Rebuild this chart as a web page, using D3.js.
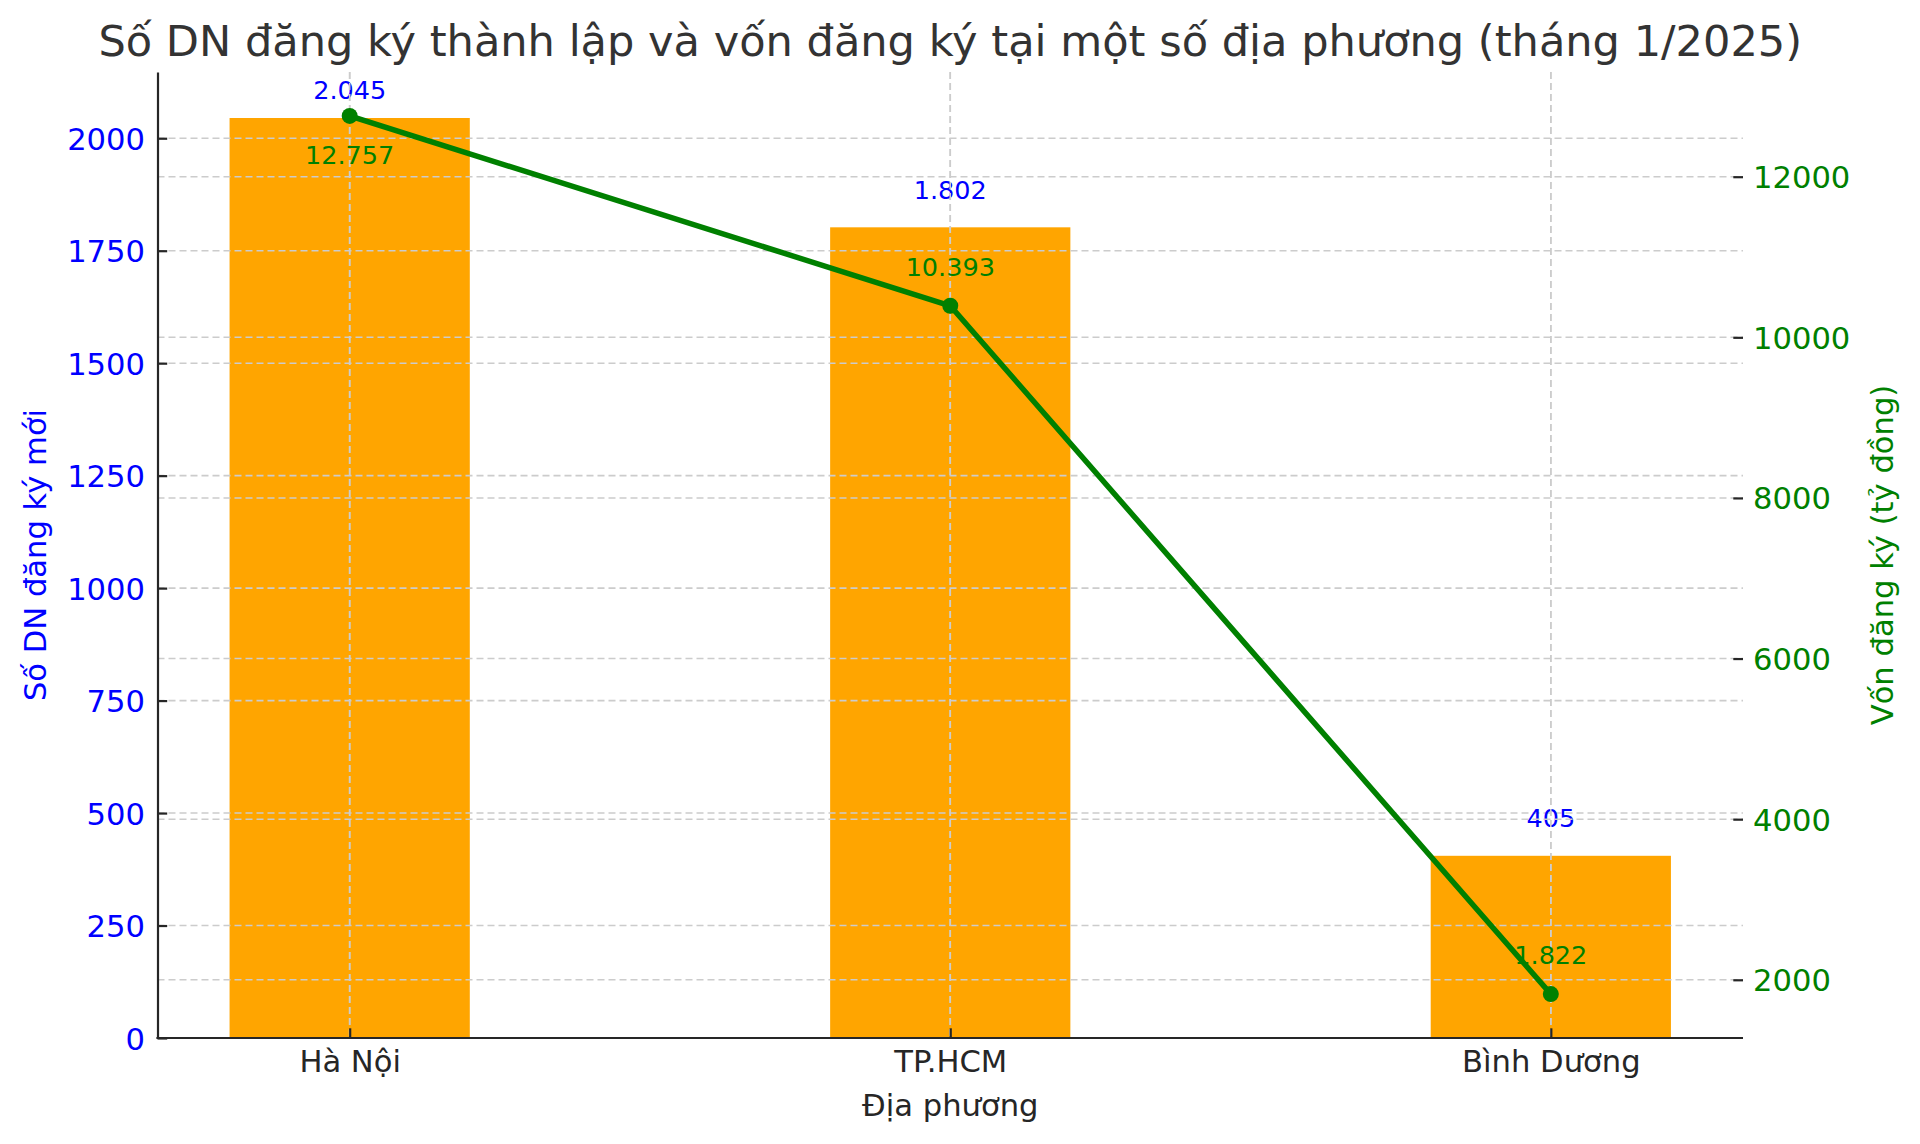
<!DOCTYPE html>
<html>
<head>
<meta charset="utf-8">
<script src="https://cdn.jsdelivr.net/npm/d3@7"></script>
<style>
  html, body { margin: 0; padding: 0; background: #fff; }
  svg { display: block; font-family: "DejaVu Sans", sans-serif; }
</style>
</head>
<body>
<svg id="chart" width="1920" height="1144"></svg>
<script>
// ---- data ----
const categories = ["Hà Nội", "TP.HCM", "Bình Dương"];
const dnCounts = [2045, 1802, 405];          // Số DN đăng ký mới
const capital = [12757, 10393, 1822];        // Vốn đăng ký (tỷ đồng)
const leftTicks = [0, 250, 500, 750, 1000, 1250, 1500, 1750, 2000];
const rightTicks = [2000, 4000, 6000, 8000, 10000, 12000];
const titleText = "Số DN đăng ký thành lập và vốn đăng ký tại một số địa phương (tháng 1/2025)";
const xLabelText = "Địa phương";
const leftLabelText = "Số DN đăng ký mới";
const rightLabelText = "Vốn đăng ký (tỷ đồng)";

// ---- layout ----
const m = { left: 157.5, right: 1743, top: 72, bottom: 1038 };
const BLUE = "#0000ff", GREEN = "#008000", ORANGE = "#ffa500", INK = "#262626";
const tickFs = 30.6, valFs = 25.5, titleFs = 43.1;
const gridColor = "#cccccc", gridW = 1.6, gridDash = "7,4";
const tickLen = 9.7, spineW = 2.2;

const vnFmt = d3.formatLocale({ decimal: ",", thousands: ".", grouping: [3], currency: ["", ""] }).format(",");
const plain = d3.format("d");

const svg = d3.select("#chart");

// scales
const bw = 0.4;
const lo = -bw / 2, hi = categories.length - 1 + bw / 2, padX = 0.05 * (hi - lo);
const x = d3.scaleLinear().domain([lo - padX, hi + padX]).range([m.left, m.right]);
const yL = d3.scaleLinear().domain([0, d3.max(dnCounts) * 1.05]).range([m.bottom, m.top]);
const cMin = d3.min(capital), cMax = d3.max(capital), cPad = 0.05 * (cMax - cMin);
const yR = d3.scaleLinear().domain([cMin - cPad, cMax + cPad]).range([m.bottom, m.top]);

// ---- bars ----
svg.append("g").selectAll("rect").data(dnCounts).join("rect")
  .attr("x", (d, i) => x(i - bw / 2))
  .attr("width", (d, i) => x(i + bw / 2) - x(i - bw / 2))
  .attr("y", d => yL(d))
  .attr("height", d => yL(0) - yL(d))
  .attr("fill", ORANGE);

// ---- left grid ----
const gL = svg.append("g");
gL.selectAll("line.h").data(leftTicks).join("line").attr("class", "h")
  .attr("x1", m.left).attr("x2", m.right)
  .attr("y1", d => yL(d)).attr("y2", d => yL(d))
  .attr("stroke", gridColor).attr("stroke-width", gridW).attr("stroke-dasharray", gridDash);
gL.selectAll("line.v").data(categories).join("line").attr("class", "v")
  .attr("x1", (d, i) => x(i)).attr("x2", (d, i) => x(i))
  .attr("y1", m.top).attr("y2", m.bottom)
  .attr("stroke", gridColor).attr("stroke-width", gridW).attr("stroke-dasharray", gridDash);

// ---- blue value labels ----
svg.append("g").selectAll("text").data(dnCounts).join("text")
  .attr("x", (d, i) => x(i))
  .attr("y", d => Math.max(yL(d + 50) - 0.24 * valFs, m.top + 1.05 * valFs))
  .attr("text-anchor", "middle")
  .attr("font-size", valFs).attr("fill", BLUE)
  .text(d => vnFmt(d));

// ---- right grid ----
const gR = svg.append("g");
gR.selectAll("line.h").data(rightTicks).join("line").attr("class", "h")
  .attr("x1", m.left).attr("x2", m.right)
  .attr("y1", d => yR(d)).attr("y2", d => yR(d))
  .attr("stroke", gridColor).attr("stroke-width", gridW).attr("stroke-dasharray", gridDash);
gR.selectAll("line.v").data(categories).join("line").attr("class", "v")
  .attr("x1", (d, i) => x(i)).attr("x2", (d, i) => x(i))
  .attr("y1", m.top).attr("y2", m.bottom)
  .attr("stroke", gridColor).attr("stroke-width", gridW).attr("stroke-dasharray", gridDash);

// ---- left axis ----
const axL = d3.axisLeft(yL).tickValues(leftTicks).tickFormat(plain)
  .tickSizeInner(-tickLen).tickSizeOuter(0).tickPadding(12.5);
const gAxL = svg.append("g").attr("transform", `translate(${m.left},0)`).call(axL);
gAxL.select(".domain").attr("stroke", INK).attr("stroke-width", spineW);
gAxL.selectAll(".tick line").attr("stroke", INK).attr("stroke-width", spineW);
gAxL.selectAll(".tick text").attr("font-size", tickFs).attr("fill", BLUE)
  .attr("font-family", "DejaVu Sans").attr("dy", "0.36em");

// ---- right axis ----
const axR = d3.axisRight(yR).tickValues(rightTicks).tickFormat(plain)
  .tickSizeInner(-tickLen).tickSizeOuter(0).tickPadding(10);
const gAxR = svg.append("g").attr("transform", `translate(${m.right},0)`).call(axR);
gAxR.select(".domain").remove();
gAxR.selectAll(".tick line").attr("stroke", INK).attr("stroke-width", spineW);
gAxR.selectAll(".tick text").attr("font-size", tickFs).attr("fill", GREEN)
  .attr("font-family", "DejaVu Sans").attr("dy", "0.36em");

// ---- bottom axis ----
const axB = d3.axisBottom(x).tickValues(d3.range(categories.length)).tickFormat(i => categories[i])
  .tickSizeInner(-tickLen).tickSizeOuter(0).tickPadding(12);
const gAxB = svg.append("g").attr("transform", `translate(0,${m.bottom})`).call(axB);
gAxB.select(".domain").attr("stroke", INK).attr("stroke-width", spineW)
  .attr("d", `M${m.left - spineW / 2},0H${m.right}`);
gAxB.selectAll(".tick line").attr("stroke", INK).attr("stroke-width", spineW);
gAxB.selectAll(".tick text").attr("font-size", tickFs).attr("fill", INK)
  .attr("font-family", "DejaVu Sans").attr("dy", "0.71em");

// ---- green line + markers ----
const line = d3.line().x((d, i) => x(i)).y(d => yR(d));
svg.append("path").datum(capital).attr("d", line)
  .attr("fill", "none").attr("stroke", GREEN).attr("stroke-width", 5.5)
  .attr("stroke-linejoin", "round").attr("stroke-linecap", "square");
svg.append("g").selectAll("circle").data(capital).join("circle")
  .attr("cx", (d, i) => x(i)).attr("cy", d => yR(d)).attr("r", 8)
  .attr("fill", GREEN);

// ---- green value labels ----
svg.append("g").selectAll("text").data(capital).join("text")
  .attr("x", (d, i) => x(i))
  .attr("y", d => {
    const above = yR(d + 300) - 0.24 * valFs;
    if (above - 0.93 * valFs < m.top) return yR(d - 300) + 0.95 * valFs;
    return above;
  })
  .attr("text-anchor", "middle")
  .attr("font-size", valFs).attr("fill", GREEN)
  .text(d => vnFmt(d));

// ---- axis titles ----
svg.append("text").attr("x", (m.left + m.right) / 2).attr("y", 1116)
  .attr("text-anchor", "middle").attr("font-size", tickFs).attr("fill", INK)
  .text(xLabelText);
svg.append("text")
  .attr("transform", `translate(46,${(m.top + m.bottom) / 2}) rotate(-90)`)
  .attr("text-anchor", "middle").attr("font-size", tickFs).attr("fill", BLUE)
  .text(leftLabelText);
svg.append("text")
  .attr("transform", `translate(1893,${(m.top + m.bottom) / 2}) rotate(-90)`)
  .attr("text-anchor", "middle").attr("font-size", tickFs).attr("fill", GREEN)
  .text(rightLabelText);

// ---- title ----
svg.append("text").attr("x", (m.left + m.right) / 2).attr("y", 56)
  .attr("text-anchor", "middle").attr("font-size", titleFs).attr("fill", "#333333")
  .text(titleText);
</script>
</body>
</html>
